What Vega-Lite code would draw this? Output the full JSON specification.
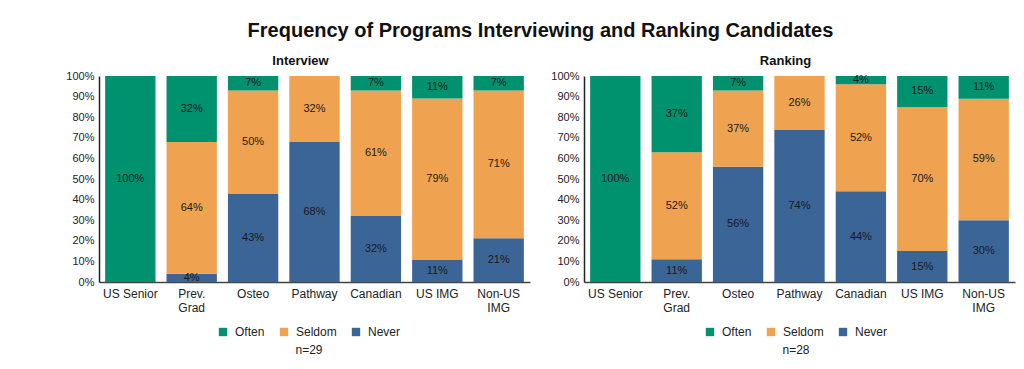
{
  "$schema": "https://vega.github.io/schema/vega-lite/v6.json",
  "background": "white",
  "padding": {"left": 65, "top": 21, "right": 5, "bottom": 5},
  "title": {"text": "Frequency of Programs Interviewing and Ranking Candidates", "fontSize": 20, "font": "Liberation Sans", "fontWeight": "bold", "anchor": "middle", "color": "#111", "offset": 14},
  "config": {
    "font": "Liberation Sans",
    "view": {"stroke": null},
    "axis": {"labelFont": "Liberation Sans", "labelColor": "#222", "ticks": false, "grid": false, "title": null, "domainColor": "#333"},
    "axisY": {"labelOverlap": false, "labelFontSize": 11, "labelPadding": 5, "domainColor": "#222", "domainWidth": 1.5, "format": ".0%"},
    "title": {"font": "Liberation Sans"}
  },
  "datasets": {
    "d": [
      {"panel": "Interview", "cat": "US Senior", "level": "Often", "value": 100},
      {"panel": "Interview", "cat": "Prev. Grad", "level": "Never", "value": 4},
      {"panel": "Interview", "cat": "Prev. Grad", "level": "Seldom", "value": 64},
      {"panel": "Interview", "cat": "Prev. Grad", "level": "Often", "value": 32},
      {"panel": "Interview", "cat": "Osteo", "level": "Never", "value": 43},
      {"panel": "Interview", "cat": "Osteo", "level": "Seldom", "value": 50},
      {"panel": "Interview", "cat": "Osteo", "level": "Often", "value": 7},
      {"panel": "Interview", "cat": "Pathway", "level": "Never", "value": 68},
      {"panel": "Interview", "cat": "Pathway", "level": "Seldom", "value": 32},
      {"panel": "Interview", "cat": "Canadian", "level": "Never", "value": 32},
      {"panel": "Interview", "cat": "Canadian", "level": "Seldom", "value": 61},
      {"panel": "Interview", "cat": "Canadian", "level": "Often", "value": 7},
      {"panel": "Interview", "cat": "US IMG", "level": "Never", "value": 11},
      {"panel": "Interview", "cat": "US IMG", "level": "Seldom", "value": 79},
      {"panel": "Interview", "cat": "US IMG", "level": "Often", "value": 11},
      {"panel": "Interview", "cat": "Non-US IMG", "level": "Never", "value": 21},
      {"panel": "Interview", "cat": "Non-US IMG", "level": "Seldom", "value": 71},
      {"panel": "Interview", "cat": "Non-US IMG", "level": "Often", "value": 7},
      {"panel": "Ranking", "cat": "US Senior", "level": "Often", "value": 100},
      {"panel": "Ranking", "cat": "Prev. Grad", "level": "Never", "value": 11},
      {"panel": "Ranking", "cat": "Prev. Grad", "level": "Seldom", "value": 52},
      {"panel": "Ranking", "cat": "Prev. Grad", "level": "Often", "value": 37},
      {"panel": "Ranking", "cat": "Osteo", "level": "Never", "value": 56},
      {"panel": "Ranking", "cat": "Osteo", "level": "Seldom", "value": 37},
      {"panel": "Ranking", "cat": "Osteo", "level": "Often", "value": 7},
      {"panel": "Ranking", "cat": "Pathway", "level": "Never", "value": 74},
      {"panel": "Ranking", "cat": "Pathway", "level": "Seldom", "value": 26},
      {"panel": "Ranking", "cat": "Canadian", "level": "Never", "value": 44},
      {"panel": "Ranking", "cat": "Canadian", "level": "Seldom", "value": 52},
      {"panel": "Ranking", "cat": "Canadian", "level": "Often", "value": 4},
      {"panel": "Ranking", "cat": "US IMG", "level": "Never", "value": 15},
      {"panel": "Ranking", "cat": "US IMG", "level": "Seldom", "value": 70},
      {"panel": "Ranking", "cat": "US IMG", "level": "Often", "value": 15},
      {"panel": "Ranking", "cat": "Non-US IMG", "level": "Never", "value": 30},
      {"panel": "Ranking", "cat": "Non-US IMG", "level": "Seldom", "value": 59},
      {"panel": "Ranking", "cat": "Non-US IMG", "level": "Often", "value": 11}
    ]
  },
  "spacing": 20,
  "resolve": {"scale": {"color": "independent"}, "legend": {"color": "independent"}},
  "hconcat": [
    {
      "width": 431,
      "height": 206,
      "title": {"text": "Interview", "fontSize": 13, "fontWeight": "bold", "color": "#111", "anchor": "middle", "dx": -14, "offset": 2},
      "data": {"name": "d"},
      "transform": [
        {"filter": "datum.panel == 'Interview'"},
        {"calculate": "indexof(['Never','Seldom','Often'], datum.level)", "as": "k"},
        {"stack": "value", "groupby": ["cat"], "sort": [{"field": "k", "order": "ascending"}], "offset": "normalize", "as": ["v0", "v1"]},
        {"calculate": "(datum.v0 + datum.v1) / 2", "as": "mid"},
        {"calculate": "datum.value + '%'", "as": "lab"}
      ],
      "encoding": {
        "x": {
          "field": "cat", "type": "nominal",
          "sort": ["US Senior", "Prev. Grad", "Osteo", "Pathway", "Canadian", "US IMG", "Non-US IMG"],
          "scale": {"paddingInner": 0.18, "paddingOuter": 0.1},
          "axis": {"labelAngle": 0, "labelFontSize": 12, "labelPadding": 6, "labelExpr": "datum.label == 'Prev. Grad' ? ['Prev.', 'Grad'] : datum.label == 'Non-US IMG' ? ['Non-US', 'IMG'] : datum.label", "domainColor": "#444", "domainWidth": 1.5}
        }
      },
      "layer": [
        {
          "mark": {"type": "bar"},
          "encoding": {
            "y": {"field": "v0", "type": "quantitative", "scale": {"domain": [0, 1]}, "axis": {"values": [0, 0.1, 0.2, 0.3, 0.4, 0.5, 0.6, 0.7, 0.8, 0.9, 1], "format": ".0%", "labelOverlap": false}},
            "y2": {"field": "v1"},
            "color": {
              "field": "level", "type": "nominal",
              "scale": {"domain": ["Often", "Seldom", "Never"], "range": ["#00916E", "#EFA350", "#3B6497"]},
              "legend": {"title": "n=29", "orient": "none", "legendX": 118, "legendY": 250, "direction": "horizontal", "titleOrient": "bottom", "titleAnchor": "middle", "symbolType": "square", "symbolSize": 70, "symbolStrokeWidth": 0, "symbolOpacity": 1, "labelFontSize": 12, "labelColor": "#222", "titleFontSize": 12, "titleFontWeight": "normal", "titleColor": "#222", "columnPadding": 13, "labelOffset": 6, "titlePadding": 7}
            }
          }
        },
        {
          "mark": {"type": "text", "fontSize": 11, "color": "#1a1a1a"},
          "encoding": {
            "y": {"field": "mid", "type": "quantitative", "axis": {"values": [0, 0.1, 0.2, 0.3, 0.4, 0.5, 0.6, 0.7, 0.8, 0.9, 1], "format": ".0%", "labelOverlap": false}},
            "text": {"field": "lab"}
          }
        }
      ]
    },
    {
      "width": 431,
      "height": 206,
      "title": {"text": "Ranking", "fontSize": 13, "fontWeight": "bold", "color": "#111", "anchor": "middle", "dx": -14, "offset": 2},
      "data": {"name": "d"},
      "transform": [
        {"filter": "datum.panel == 'Ranking'"},
        {"calculate": "indexof(['Never','Seldom','Often'], datum.level)", "as": "k"},
        {"stack": "value", "groupby": ["cat"], "sort": [{"field": "k", "order": "ascending"}], "offset": "normalize", "as": ["v0", "v1"]},
        {"calculate": "(datum.v0 + datum.v1) / 2", "as": "mid"},
        {"calculate": "datum.value + '%'", "as": "lab"}
      ],
      "encoding": {
        "x": {
          "field": "cat", "type": "nominal",
          "sort": ["US Senior", "Prev. Grad", "Osteo", "Pathway", "Canadian", "US IMG", "Non-US IMG"],
          "scale": {"paddingInner": 0.18, "paddingOuter": 0.1},
          "axis": {"labelAngle": 0, "labelFontSize": 12, "labelPadding": 6, "labelExpr": "datum.label == 'Prev. Grad' ? ['Prev.', 'Grad'] : datum.label == 'Non-US IMG' ? ['Non-US', 'IMG'] : datum.label", "domainColor": "#444", "domainWidth": 1.5}
        }
      },
      "layer": [
        {
          "mark": {"type": "bar"},
          "encoding": {
            "y": {"field": "v0", "type": "quantitative", "scale": {"domain": [0, 1]}, "axis": {"values": [0, 0.1, 0.2, 0.3, 0.4, 0.5, 0.6, 0.7, 0.8, 0.9, 1], "format": ".0%", "labelOverlap": false}},
            "y2": {"field": "v1"},
            "color": {
              "field": "level", "type": "nominal",
              "scale": {"domain": ["Often", "Seldom", "Never"], "range": ["#00916E", "#EFA350", "#3B6497"]},
              "legend": {"title": "n=28", "orient": "none", "legendX": 120, "legendY": 250, "direction": "horizontal", "titleOrient": "bottom", "titleAnchor": "middle", "symbolType": "square", "symbolSize": 70, "symbolStrokeWidth": 0, "symbolOpacity": 1, "labelFontSize": 12, "labelColor": "#222", "titleFontSize": 12, "titleFontWeight": "normal", "titleColor": "#222", "columnPadding": 13, "labelOffset": 6, "titlePadding": 7}
            }
          }
        },
        {
          "mark": {"type": "text", "fontSize": 11, "color": "#1a1a1a"},
          "encoding": {
            "y": {"field": "mid", "type": "quantitative", "axis": {"values": [0, 0.1, 0.2, 0.3, 0.4, 0.5, 0.6, 0.7, 0.8, 0.9, 1], "format": ".0%", "labelOverlap": false}},
            "text": {"field": "lab"}
          }
        }
      ]
    }
  ]
}
